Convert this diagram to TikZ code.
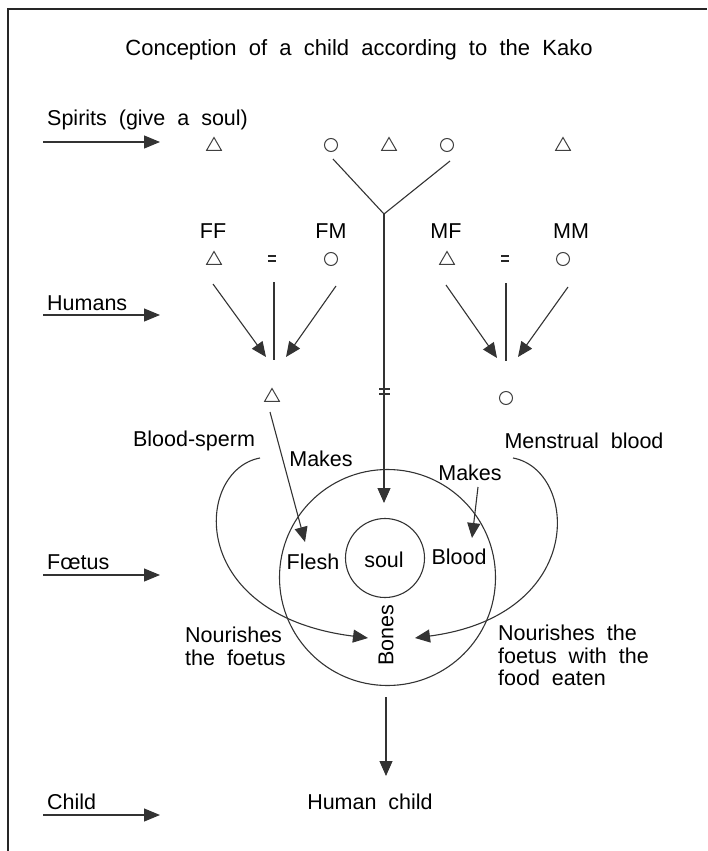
\documentclass[tikz,border=0pt]{standalone}
\usepackage{fontspec}
\setmainfont{Liberation Sans}[WordSpace=2]
\usetikzlibrary{arrows.meta,shapes.geometric}
\begin{document}
\begin{tikzpicture}[x=1pt,y=-1pt,
  ln/.style={draw=black!80, line width=1.1pt},
  arr/.style={ln, -{Triangle[length=15pt,width=13pt]}},
  larr/.style={ln, -{Triangle[length=16pt,width=13pt]}},
  lbl/.style={font=\fontsize{21.5}{22.5}\selectfont, inner sep=0pt},
  tri/.style={regular polygon, regular polygon sides=3, draw=black!75, line width=1pt, minimum size=17pt, inner sep=0pt},
  circ/.style={circle, draw=black!75, line width=1pt, minimum size=13pt, inner sep=0pt},
  eqs/.style={draw=black!85, line width=1.5pt},
]
\useasboundingbox (0,0) rectangle (707,851);
% frame
\draw[line width=2.5pt, black!85] (8,851) -- (8,9) -- (707,9);
% title
\node[lbl, font=\fontsize{22}{24}\selectfont] (title) at (359,50) {Conception of a child according to the Kako};

% left level labels
\node[lbl, anchor=base west] (lspirits) at (47,125) {Spirits (give a soul)};
\node[lbl, anchor=base west] (lhumans) at (47,310) {Humans};
\node[lbl, anchor=base west] (lfoetus) at (47,569) {Fœtus};
\node[lbl, anchor=base west] (lchild) at (47,809) {Child};
\coordinate (a1s) at (43,142); \coordinate (a1e) at (160,142);
\coordinate (a2s) at (43,315); \coordinate (a2e) at (160,315);
\coordinate (a3s) at (43,575); \coordinate (a3e) at (160,575);
\coordinate (a4s) at (43,815); \coordinate (a4e) at (160,815);
\draw[larr] (a1s) -- (a1e);
\draw[larr] (a2s) -- (a2e);
\draw[larr] (a3s) -- (a3e);
\draw[larr] (a4s) -- (a4e);

% spirits row
\node[tri] (s1) at (214,146) {};
\node[circ] (s2) at (331,145) {};
\node[tri] (s3) at (389,146) {};
\node[circ] (s4) at (447,145) {};
\node[tri] (s5) at (563,146) {};
\coordinate (s2b) at (333,159);
\coordinate (s4b) at (450,161);
\coordinate (fork) at (384,214);
\coordinate (soultip) at (384,503);
\draw[ln] (s2b) -- (fork) -- (s4b);
\draw[arr] (fork) -- (soultip);
\draw[ln] (379,389) -- (390,389);
\draw[ln] (379,394) -- (390,394);

% humans row
\node[lbl] (ff) at (213,231) {FF};
\node[lbl] (fm) at (331,231) {FM};
\node[lbl] (mf) at (446,231) {MF};
\node[lbl] (mm) at (571,231) {MM};
\node[tri] (ffs) at (214,260) {};
\node[circ] (fms) at (331,259) {};
\node[tri] (mfs) at (447,260) {};
\node[circ] (mms) at (563,259) {};
\draw[eqs] (268,256) -- (276,256);
\draw[eqs] (268,261) -- (276,261);
\draw[eqs] (501,256) -- (509,256);
\draw[eqs] (501,261) -- (509,261);

\coordinate (ffa) at (213,284); \coordinate (ffb) at (266,357);
\coordinate (fma) at (336,286); \coordinate (fmb) at (286,357);
\coordinate (fva) at (274,282); \coordinate (fvb) at (274,360);
\coordinate (mfa) at (446,285); \coordinate (mfb) at (497,358);
\coordinate (mma) at (568,287); \coordinate (mmb) at (518,357);
\coordinate (mva) at (506,283); \coordinate (mvb) at (506,361);
\draw[arr] (ffa) -- (ffb);
\draw[arr] (fma) -- (fmb);
\draw[ln] (fva) -- (fvb);
\draw[arr] (mfa) -- (mfb);
\draw[arr] (mma) -- (mmb);
\draw[ln] (mva) -- (mvb);

\node[tri] (son) at (272,397) {};
\node[circ] (dau) at (506,398) {};

% foetus
\node[circle, draw=black!80, line width=1.1pt, minimum size=216pt, inner sep=0pt] (fetus) at (387.5,577.5) {};
\node[circle, draw=black!80, line width=1.1pt, minimum size=79pt, inner sep=0pt] (soulc) at (385,558) {};
\node[lbl] (soul) at (384,560) {soul};
\node[lbl] (flesh) at (313,562) {Flesh};
\node[lbl] (blood) at (459,557) {Blood};
\node[lbl, rotate=90] (bones) at (386,635) {Bones};
\node[lbl] (mk1) at (321,459) {Makes};
\node[lbl] (mk2) at (470,473) {Makes};
\node[lbl] (bs) at (194,441) {Blood-sperm};
\node[lbl] (mb) at (584,441) {Menstrual blood};
\node[lbl, anchor=north west, align=left] (nl) at (185,627) {Nourishes\\the foetus};
\node[lbl, anchor=north west, align=left] (nr) at (498,625) {Nourishes the\\foetus with the\\food eaten};

\coordinate (mk1a) at (270,412); \coordinate (mk1b) at (305,542);
\coordinate (mk2a) at (478,487); \coordinate (mk2b) at (472,538);
\draw[arr] (mk1a) -- (mk1b);
\draw[arr] (mk2a) -- (mk2b);

\coordinate (lc0) at (260,458); \coordinate (lc1) at (368,638);
\coordinate (rc0) at (513,458); \coordinate (rc1) at (415,638);
\draw[arr] (lc0) .. controls (195,470) and (185,615) .. (lc1);
\draw[arr] (rc0) .. controls (578,470) and (588,615) .. (rc1);

% child
\coordinate (ca) at (386,697); \coordinate (cb) at (386,776);
\draw[arr] (ca) -- (cb);
\node[lbl] (hc) at (370,802) {Human child};
\end{tikzpicture}
\end{document}
